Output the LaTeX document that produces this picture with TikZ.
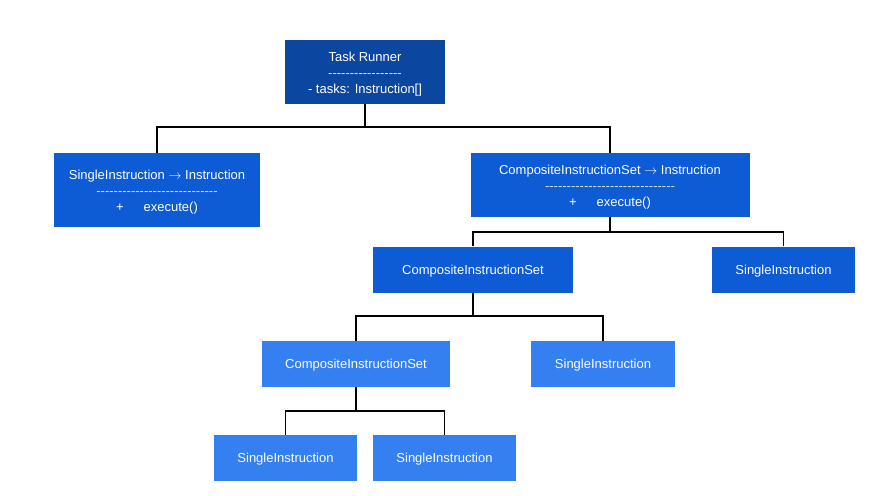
\RequirePackage{fix-cm}
\documentclass[tikz,border=0pt]{standalone}
\usepackage{fontspec}
\setmainfont{Liberation Sans}
\newfontfamily\hyfont{Liberation Sans}[Ligatures=TeXOff]
\definecolor{cdark}{HTML}{0B47A1}
\definecolor{cmid}{HTML}{0D5BD5}
\definecolor{clight}{HTML}{3580F0}
\begin{document}
\begin{tikzpicture}[x=1pt,y=-1pt,
  box/.style={rectangle, inner sep=0pt, text=white,
    font=\fontsize{13}{16}\selectfont},
  multi/.style={align=center},
  single/.style={text height=12.4pt, text depth=3pt},
  dkbox/.style={box, fill=cdark},
  mdbox/.style={box, fill=cmid},
  ltbox/.style={box, fill=clight},
  conn/.style={draw=black, line width=1.9pt}]
\useasboundingbox (0,0) rectangle (869,495);
\newcommand{\dl}[1]{{\hyfont\color{white!80!cmid}#1}}
\newcommand{\ar}{$\rightarrow$}
\node[dkbox, multi, minimum width=160, minimum height=64] (top) at (365,72)
  {\rule{0pt}{14pt}Task Runner\\ \dl{-----------------}\\- tasks: Instruction[]};
\node[mdbox, multi, minimum width=206, minimum height=74] (single1) at (157,190)
  {\rule{0pt}{14pt}SingleInstruction \ar{} Instruction\\ \dl{----------------------------}\\+\hspace{20pt}execute()};
\node[mdbox, multi, minimum width=279, minimum height=64] (comp1) at (610,185)
  {\rule{0pt}{14pt}CompositeInstructionSet \ar{} Instruction\\ \dl{------------------------------}\\+\hspace{20pt}execute()};
\node[mdbox, single, minimum width=200, minimum height=46] (comp2) at (473,269.5) {CompositeInstructionSet};
\node[mdbox, single, minimum width=143, minimum height=46] (single2) at (783.5,269.5) {SingleInstruction};
\node[ltbox, single, minimum width=188, minimum height=46] (comp3) at (356,364) {CompositeInstructionSet};
\node[ltbox, single, minimum width=144, minimum height=46] (single3) at (603,364) {SingleInstruction};
\node[ltbox, single, minimum width=143, minimum height=46] (single4) at (285.5,458) {SingleInstruction};
\node[ltbox, single, minimum width=143, minimum height=46] (single5) at (444.5,458) {SingleInstruction};

\draw[conn] (top.south) -- (top.south |- 0,127) -| (single1.north);
\draw[conn] (top.south) -- (top.south |- 0,127) -| (comp1.north);
\draw[conn] (comp1.south) -- (comp1.south |- 0,232) -| (comp2.north);
\draw[conn] (comp1.south) -- (comp1.south |- 0,232) -| (single2.north);
\draw[conn] (comp2.south) -- (comp2.south |- 0,316) -| (comp3.north);
\draw[conn] (comp2.south) -- (comp2.south |- 0,316) -| (single3.north);
\draw[conn] (comp3.south) -- (comp3.south |- 0,411) -| (single4.north);
\draw[conn] (comp3.south) -- (comp3.south |- 0,411) -| (single5.north);
\end{tikzpicture}
\end{document}
